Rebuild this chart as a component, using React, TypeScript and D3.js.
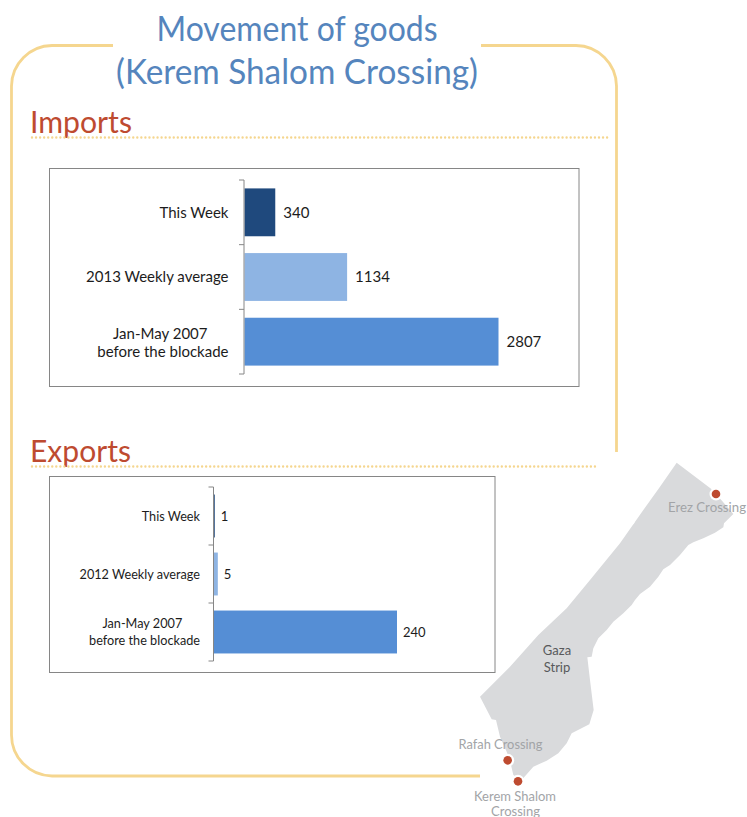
import React from "react";
import * as d3 from "d3";

const FONT = "'Lato', 'Open Sans', sans-serif";
const BLUE_DARK = "#1F497D";
const BLUE_LIGHT = "#8EB4E3";
const BLUE_MID = "#558ED5";
const GOLD = "#F5D68F";
const RED = "#BE4B30";

const importCategories = ["This Week", "2013 Weekly average", "Jan-May 2007\nbefore the blockade"];
const importValues = [340, 1134, 2807];
const exportCategories = ["This Week", "2012 Weekly average", "Jan-May 2007\nbefore the blockade"];
const exportValues = [1, 5, 240];
const barColors = [BLUE_DARK, BLUE_LIGHT, BLUE_MID];

const gazaOutline: [number, number][] = [
  [680, 68], [785, 148], [812, 178], [850, 222], [822, 250], [820, 262], [795, 278], [760, 295],
  [730, 307], [715, 315], [690, 345], [660, 375], [640, 388], [625, 410], [600, 440], [570, 462],
  [555, 480], [545, 495], [520, 520], [490, 545], [470, 570], [445, 595], [430, 625], [425, 650],
  [412, 652], [420, 720], [431, 810], [418, 853], [365, 880], [350, 910], [325, 940], [290, 962],
  [250, 980], [215, 1020], [190, 1005], [183, 975], [170, 935], [150, 890], [138, 840], [125, 838],
  [90, 770], [180, 680], [265, 585], [350, 505], [420, 420], [510, 310], [580, 210], [630, 140],
];
const crossings: [number, number][] = [[798, 162], [173, 961], [204, 1024]];

const mapX = d3.scaleLinear().domain([0, 3]).range([450, 451]);
const mapY = d3.scaleLinear().domain([0, 3]).range([440, 441]);

type ChartProps = {
  frame: [number, number, number, number];
  axisX: number;
  yRange: [number, number];
  perUnit: number;
  cats: string[];
  vals: number[];
  fontSize: number;
  valueSize: number;
  labelGap: number;
  valueGap: number;
  lineHeight: number;
  labelStretch: number;
  blockShift: number;
};

function BarPanel({ frame, axisX, yRange, perUnit, cats, vals, fontSize, valueSize, labelGap, valueGap, lineHeight, labelStretch, blockShift }: ChartProps) {
  const y = d3.scaleBand<string>().domain(cats).range(yRange).paddingInner(0.26).paddingOuter(0.13);
  const maxV = d3.max(vals) as number;
  const x = d3.scaleLinear().domain([0, maxV]).range([axisX + 0.5, axisX + 0.5 + maxV * perUnit]);
  const step = y.step();
  const ticks = d3.range(cats.length + 1).map((i) => yRange[0] + i * step);
  return (
    <g>
      <rect x={frame[0]} y={frame[1]} width={frame[2] - frame[0]} height={frame[3] - frame[1]} fill="#fff" stroke="#868686" strokeWidth={1} />
      {cats.map((c, i) => (
        <rect key={c} x={x(0)} y={y(c)} width={x(vals[i]) - x(0)} height={y.bandwidth()} fill={barColors[i]} />
      ))}
      <line x1={axisX} x2={axisX} y1={yRange[0]} y2={yRange[1]} stroke="#868686" strokeWidth={1} />
      {ticks.map((t) => (
        <line key={t} x1={axisX - 5} x2={axisX} y1={t} y2={t} stroke="#868686" strokeWidth={1} />
      ))}
      {cats.map((c) => {
        const lines = c.split("\n");
        const mid = (y(c) as number) + y.bandwidth() / 2 + (lines.length > 1 ? blockShift : 0);
        const maxLen = d3.max(lines, (l) => l.length) as number;
        return (
          <text key={c} fontSize={fontSize} fill="#1c1c1c" transform={`translate(${axisX - labelGap},0) scale(${labelStretch},1)`}>
            {lines.map((l, i) => (
              <tspan key={l} x={lines.length > 1 && i === 0 ? -(maxLen - l.length) * fontSize * 0.2 : 0} textAnchor="end" y={mid + fontSize * 0.35 + (i - (lines.length - 1) / 2) * lineHeight}>
                {l}
              </tspan>
            ))}
          </text>
        );
      })}
      {cats.map((c, i) => (
        <text key={c} x={x(vals[i]) + valueGap} y={(y(c) as number) + y.bandwidth() / 2 + valueSize * 0.35} fontSize={valueSize} fill="#1c1c1c">
          {vals[i]}
        </text>
      ))}
    </g>
  );
}

export default function App() {
  const outline = d3.line<[number, number]>().x((d) => mapX(d[0])).y((d) => mapY(d[1])).curve(d3.curveLinearClosed)(gazaOutline) as string;
  return (
    <svg width={747} height={817} viewBox="0 0 747 817" style={{ position: "absolute", left: 0, top: 0, background: "#fff", fontFamily: FONT }}>
      <path d="M113 45.5 H52 A41 41 0 0 0 11.5 86 V735 A41 41 0 0 0 52 776 H480" fill="none" stroke={GOLD} strokeWidth={2.8} />
      <path d="M481 45.5 H576 A41 41 0 0 1 616.5 86 V452" fill="none" stroke={GOLD} strokeWidth={2.8} />

      <text x={297} y={41} textAnchor="middle" fontSize={34.5} fill="#5585BD" textLength={281} lengthAdjust="spacingAndGlyphs">Movement of goods</text>
      <text x={297} y={84} textAnchor="middle" fontSize={34.5} fill="#5585BD" textLength={362} lengthAdjust="spacingAndGlyphs">(Kerem Shalom Crossing)</text>

      <text x={30} y={133} fontSize={31} fill={RED} textLength={102} lengthAdjust="spacingAndGlyphs">Imports</text>
      <line x1={32} x2={608} y1={137.5} y2={137.5} stroke={GOLD} strokeWidth={2.4} strokeLinecap="round" strokeDasharray="0 4.05" />
      <text x={30} y={462} fontSize={31} fill={RED} textLength={101} lengthAdjust="spacingAndGlyphs">Exports</text>
      <line x1={32} x2={597} y1={466.5} y2={466.5} stroke={GOLD} strokeWidth={2.4} strokeLinecap="round" strokeDasharray="0 4.05" />

      <path d={outline} fill="#D9DADC" />
      <rect x={mapX(546)} y={mapY(242)} width={3} height={3} fill="#fff" transform={`rotate(45 ${mapX(547)} ${mapY(244)})`} />

      <BarPanel frame={[49.5, 168.5, 579, 386.5]} axisX={244} yRange={[180, 374]} perUnit={254 / 2807} cats={importCategories} vals={importValues} fontSize={15} valueSize={15} labelGap={15.5} valueGap={8} lineHeight={18.5} labelStretch={1.0} blockShift={1} />
      <BarPanel frame={[49.5, 476.5, 495, 672.5]} axisX={213.5} yRange={[487, 661]} perUnit={183 / 240} cats={exportCategories} vals={exportValues} fontSize={13.5} valueSize={13} labelGap={13.5} valueGap={6} lineHeight={17} labelStretch={0.94} blockShift={0} />

      {crossings.map((c) => (
        <g key={c[0]}>
          <circle cx={mapX(c[0])} cy={mapY(c[1])} r={6.5} fill="#fff" />
          <circle cx={mapX(c[0])} cy={mapY(c[1])} r={4.3} fill={RED} />
        </g>
      ))}

      <g fontSize={13} fill="#A2A4A7" textAnchor="middle">
        <text x={707} y={512} textLength={78} lengthAdjust="spacingAndGlyphs">Erez Crossing</text>
        <text x={500.5} y={749} textLength={84} lengthAdjust="spacingAndGlyphs">Rafah Crossing</text>
        <text x={515} y={801} textLength={82} lengthAdjust="spacingAndGlyphs">Kerem Shalom</text>
        <text x={515.5} y={816} textLength={49} lengthAdjust="spacingAndGlyphs">Crossing</text>
      </g>
      <g fontSize={13} fill="#58595B" textAnchor="middle">
        <text x={557} y={655}>Gaza</text>
        <text x={557} y={672}>Strip</text>
      </g>
    </svg>
  );
}
